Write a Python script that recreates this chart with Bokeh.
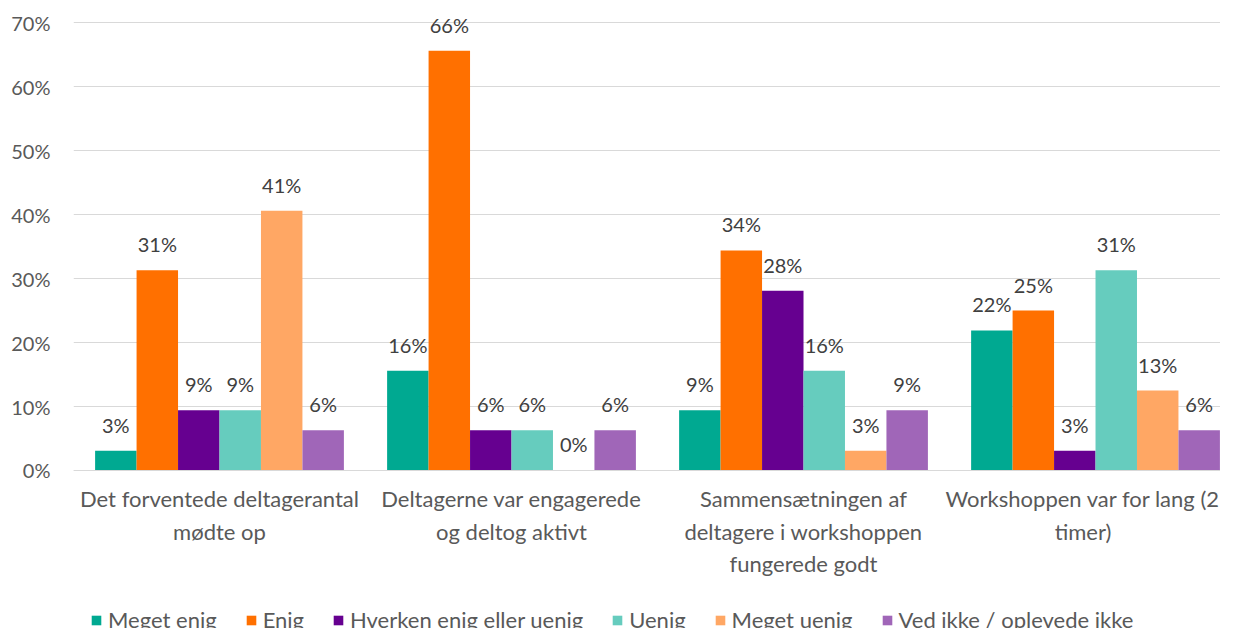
import numpy as np
from bokeh.plotting import figure
from bokeh.models import (ColumnDataSource, Range1d, FixedTicker, Legend, LegendItem,
                          LabelSet)
from bokeh.core.properties import value
from bokeh.embed import file_html
from bokeh.resources import INLINE

categories = ["Det forventede deltagerantal\nmødte op",
              "Deltagerne var engagerede\nog deltog aktivt",
              "Sammensætningen af\ndeltagere i workshoppen\nfungerede godt",
              "Workshoppen var for lang (2\ntimer)"]
series = ["Meget enig", "Enig", "Hverken enig eller uenig", "Uenig", "Meget uenig",
          "Ved ikke / oplevede ikke"]
colors = ["#00A991", "#FF7000", "#660090", "#66CCBE", "#FFA764", "#A066B8"]

meget_enig = [3.1, 15.6, 9.4, 21.9]
enig = [31.3, 65.6, 34.4, 25.0]
hverken = [9.4, 6.3, 28.1, 3.1]
uenig = [9.4, 6.3, 15.6, 31.3]
meget_uenig = [40.6, 0.0, 3.1, 12.5]
ved_ikke = [6.3, 6.3, 9.4, 6.3]
values = [meget_enig, enig, hverken, uenig, meget_uenig, ved_ikke]
y_ticks = [0, 10, 20, 30, 40, 50, 60, 70]

FONT = "Lato"
# frame spans the full picture height; the area below 0 holds category labels and legend
p = figure(frame_width=1147, frame_height=625, output_backend="svg", toolbar_location=None,
           x_range=Range1d(-0.5, 3.428), y_range=Range1d(-24.7, 73),
           min_border_left=73, min_border_right=0, min_border_top=3, min_border_bottom=0)
p.outline_line_color = None
p.background_fill_color = "white"
p.border_fill_color = "white"

bw = 0.142
cat_idx = np.arange(len(categories))
items = []
for j, (name, col, vals) in enumerate(zip(series, colors, values)):
    xs = cat_idx + (j - 2.5) * bw
    src = ColumnDataSource(dict(x=xs, top=vals, lab=[f"{int(v + 0.5)}%" for v in vals]))
    r = p.vbar(x="x", top="top", width=bw, bottom=0, source=src, fill_color=col,
               line_color=None)
    items.append(LegendItem(label=name, renderers=[r]))
    ls = LabelSet(x="x", y="top", text="lab", source=src, y_offset=14,
                  text_align="center", text_baseline="bottom", text_font=value(FONT),
                  text_font_size=value("20px"), text_color=value("#404040"))
    p.add_layout(ls)

p.xaxis.fixed_location = 0
p.xaxis.ticker = FixedTicker(ticks=list(cat_idx))
p.xaxis.major_label_overrides = {int(i): c for i, c in zip(cat_idx, categories)}
p.xaxis.major_label_text_font = FONT
p.xaxis.major_label_text_font_size = "22px"
p.xaxis.major_label_text_color = "#595959"
p.xaxis.major_tick_out = 0
p.xaxis.major_tick_in = 0
p.xaxis.major_label_standoff = 15
p.xaxis.axis_line_color = "#d9d9d9"
p.xaxis.major_tick_line_color = None
p.xaxis.minor_tick_line_color = None
p.xgrid.grid_line_color = None

p.yaxis.ticker = FixedTicker(ticks=y_ticks)
p.yaxis.major_label_overrides = {v: f"{v}%" for v in y_ticks}
p.yaxis.major_label_text_font = FONT
p.yaxis.major_label_text_font_size = "20px"
p.yaxis.major_label_text_color = "#595959"
p.yaxis.major_tick_out = 0
p.yaxis.major_tick_in = 0
p.yaxis.major_label_standoff = 23
p.yaxis.axis_line_color = None
p.yaxis.major_tick_line_color = None
p.yaxis.minor_tick_line_color = None
p.ygrid.grid_line_color = "#d9d9d9"
p.ygrid.grid_line_width = 1

legend = Legend(items=items, orientation="horizontal", location=(17, -5),
                label_text_font=FONT, label_text_font_size="22px",
                label_text_color="#595959", glyph_width=12, glyph_height=12,
                spacing=28, padding=0, margin=0, border_line_color=None,
                background_fill_alpha=0, label_standoff=6)
p.add_layout(legend, "center")

open("out.html", "w").write(file_html(p, INLINE))
